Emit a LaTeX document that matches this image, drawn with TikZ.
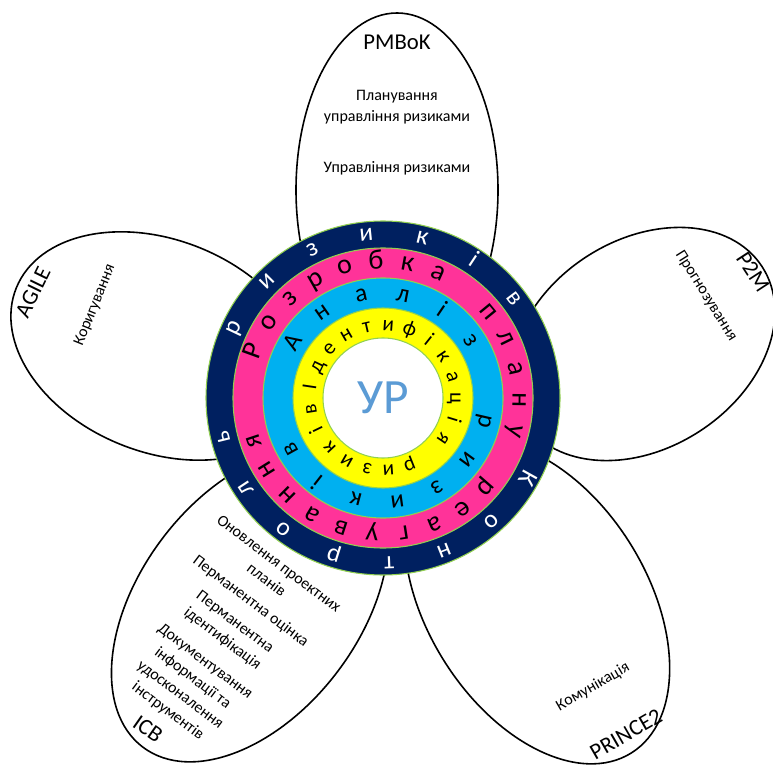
\documentclass[tikz,border=0pt]{standalone}
\usepackage{fontspec}
\setmainfont{Carlito}
\definecolor{ringnavy}{RGB}{0,32,96}
\definecolor{ringpink}{RGB}{255,51,153}
\definecolor{ringcyan}{RGB}{0,176,240}
\definecolor{ringyellow}{RGB}{255,255,0}
\definecolor{ringedge}{RGB}{146,208,80}
\definecolor{urblue}{RGB}{91,155,213}
\tikzstyle{petal}=[draw=black, line width=1.2pt, fill=white]
\tikzstyle{ring}=[draw=ringedge, line width=0.8pt]

\begin{document}
\begin{tikzpicture}
      [x=0.75pt, y=0.75pt,
      ringletter/.style={anchor=base, inner sep=0pt},
      methodname/.style={font=\fontsize{17}{20}\selectfont},
      petaltext/.style={font=\fontsize{12}{15.5}\selectfont, align=center, inner sep=1pt}]
      \useasboundingbox (0,0) rectangle (773,765);
      % Petals
      \draw[petal] (397,575) ellipse [x radius=101, y radius=177];
      \draw[petal, shift={(643,421)}, rotate=33] (0,0) ellipse [x radius=142, y radius=104];
      \draw[petal, shift={(160,419)}, rotate=158] (0,0) ellipse [x radius=155, y radius=106];
      \draw[petal, shift={(250,160)}, rotate=53] (0,0) ellipse [x radius=178, y radius=110];
      \draw[petal, shift={(537,163)}, rotate=-58] (0,0) ellipse [x radius=178, y radius=110];
      % Petal texts
      \node[methodname] (pmbok) at (397,723) {PMBoK};
      \node[petaltext] (pmbok-plan) at (397,658) {Планування\\управління ризиками};
      \node[petaltext] (pmbok-ctl) at (397,597) {Управління ризиками};
      \node[methodname, rotate=-57] (p2m) at (753,493) {P2M};
      \node[petaltext, rotate=-58] (p2m-fc) at (706,469) {Прогнозування};
      \node[methodname, rotate=64] (agile) at (33,473) {AGILE};
      \node[petaltext, rotate=68] (agile-cor) at (95,460) {Коригування};
      \node[methodname, rotate=-35] (icb) at (148,36) {ICB};
      \node[petaltext, rotate=-37] (icb-steps) at (223,127)
        {Оновлення проектних\\планів\\[4pt]Перманентна оцінка\\[4pt]Перманентна\\ідентифікація\\[6pt]Документування\\інформації та\\удосконалення\\інструментів};
      \node[methodname, rotate=30] (prince) at (626,31) {PRINCE2};
      \node[petaltext, rotate=30] (prince-com) at (593,78) {Комунікація};
      % Rings
      \begin{scope}[shift={(383,367)}]
        \draw[ring, fill=ringnavy] (0,0) circle [radius=177];
        \draw[ring, fill=ringpink] (0,0) circle [radius=150];
        \draw[ring, fill=ringcyan] (0,0) circle [radius=120];
        \draw[ring, fill=ringyellow] (0,0) circle [radius=90];
        \draw[ring, fill=white] (0,0) circle [radius=60];
        \node[text=urblue, font=\fontsize{37}{40}\selectfont] (ur) at (0,0) {УР};
        % letters run clockwise, tops outward
        \foreach \ch [count=\i from 0] in {К,о,н,т,р,о,л,ь,,р,и,з,и,к,і,в} {
          \pgfmathsetmacro\a{-29-19.6*\i}
          \node[ringletter, text=white, font=\fontsize{19}{19}\selectfont, rotate=\a-90] (ctl-\i) at (\a:158.5) {\ch};
        }
        \foreach \ch [count=\i from 0] in {Р,о,з,р,о,б,к,а,,п,л,а,н,у,,р,е,а,г,у,в,а,н,н,я} {
          \pgfmathsetmacro\a{160-13.4*\i}
          \node[ringletter, font=\fontsize{21}{21}\selectfont, rotate=\a-90] (plan-\i) at (\a:129.5) {\ch};
        }
        \foreach \ch [count=\i from 0] in {А,н,а,л,і,з,,р,и,з,и,к,і,в} {
          \pgfmathsetmacro\a{148-23*\i}
          \node[ringletter, font=\fontsize{19}{19}\selectfont, rotate=\a-90] (anl-\i) at (\a:98.5) {\ch};
        }
        \foreach \ch [count=\i from 0] in {І,д,е,н,т,и,ф,і,к,а,ц,і,я,,р,и,з,и,к,і,в} {
          \pgfmathsetmacro\a{171.5-17.14*\i}
          \node[ringletter, font=\fontsize{16}{16}\selectfont, rotate=\a-90] (idn-\i) at (\a:67.5) {\ch};
        }
      \end{scope}
\end{tikzpicture}
\end{document}
